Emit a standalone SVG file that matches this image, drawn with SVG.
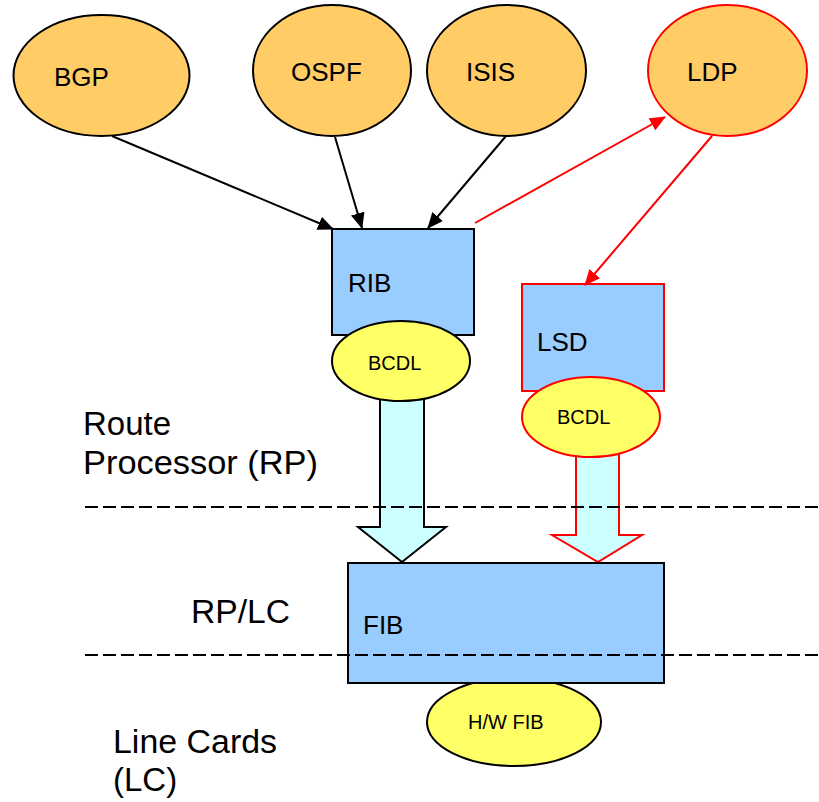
<svg xmlns="http://www.w3.org/2000/svg" width="819" height="802" viewBox="0 0 819 802">
<style>
text{font-family:"Liberation Sans",Arial,sans-serif;fill:#000}
.proto{fill:#FFCC66;stroke:#000;stroke-width:2}
.box{fill:#99CCFF;stroke:#000;stroke-width:2}
.bcdl{fill:#FFFF66;stroke:#000;stroke-width:2}
.red{stroke:#FF0000}
.lbl{font-size:26px}
.small{font-size:20px}
.region{font-size:33px}
.conn{fill:none;stroke-width:2}
.dash{stroke:#000;stroke-width:2;stroke-dasharray:13 5;fill:none}
.blk{fill:#CCFFFF;stroke-width:2}
</style>
<defs>
<marker id="ah" markerUnits="userSpaceOnUse" markerWidth="16" markerHeight="14" refX="15" refY="7" orient="auto"><path d="M0,0 L16,7 L0,14 Z" fill="#000"/></marker>
<marker id="ahr" markerUnits="userSpaceOnUse" markerWidth="16" markerHeight="14" refX="15" refY="7" orient="auto"><path d="M0,0 L16,7 L0,14 Z" fill="#FF0000"/></marker>
</defs>

<g id="block-arrows">
<polygon id="arrow-rib-fib" class="blk" stroke="#000" points="380,395 424,395 424,527 446,527 402,562 358,527 380,527"/>
<polygon id="arrow-lsd-fib" class="blk" stroke="#FF0000" points="576,450 619,450 619,535 642,535 598,562 552,535 576,535"/>
</g>

<g id="hwfib"><ellipse class="bcdl" cx="514" cy="722" rx="87" ry="44"/><text class="small" x="468" y="729" font-size="21">H/W FIB</text></g>

<g id="bgp"><ellipse class="proto" cx="101.5" cy="75.5" rx="88" ry="60.5"/><text class="lbl" x="54" y="86">BGP</text></g>
<g id="ospf"><ellipse class="proto" cx="332" cy="70.5" rx="79" ry="65.5"/><text class="lbl" x="291" y="81">OSPF</text></g>
<g id="isis"><ellipse class="proto" cx="506.5" cy="70.5" rx="79.5" ry="65.5"/><text class="lbl" x="466" y="81">ISIS</text></g>
<g id="ldp"><ellipse class="proto red" cx="727.5" cy="70.5" rx="79.5" ry="65.5"/><text class="lbl" x="687" y="81">LDP</text></g>

<g id="rib"><rect class="box" x="332" y="229" width="142" height="106"/><text class="lbl" x="348" y="292">RIB</text></g>
<g id="bcdl1"><ellipse class="bcdl" cx="401" cy="361" rx="69" ry="40"/><text class="small" x="368" y="370">BCDL</text></g>

<g id="lsd"><rect class="box red" x="522" y="284" width="142" height="107"/><text class="lbl" x="537" y="351">LSD</text></g>
<g id="bcdl2"><ellipse class="bcdl red" cx="591" cy="417" rx="69" ry="40"/><text class="small" x="557" y="424">BCDL</text></g>

<g id="fib"><rect class="box" x="348" y="563" width="316" height="120"/><text class="lbl" x="363" y="634">FIB</text></g>

<g id="connectors">
<line class="conn" stroke="#000" x1="112" y1="136" x2="333" y2="229" marker-end="url(#ah)"/>
<line class="conn" stroke="#000" x1="335" y1="137" x2="362" y2="228" marker-end="url(#ah)"/>
<line class="conn" stroke="#000" x1="506" y1="136" x2="428" y2="228" marker-end="url(#ah)"/>
<line class="conn" stroke="#FF0000" x1="475" y1="223" x2="665" y2="117" marker-end="url(#ahr)"/>
<line class="conn" stroke="#FF0000" x1="712" y1="136" x2="585" y2="285" marker-end="url(#ahr)"/>
</g>

<g id="boundaries">
<line class="dash" x1="85" y1="507" x2="819" y2="507"/>
<line class="dash" x1="85" y1="655" x2="819" y2="655"/>
</g>

<g id="region-labels">
<text class="region" x="83" y="435">Route</text>
<text class="region" x="83" y="474" textLength="235" lengthAdjust="spacingAndGlyphs">Processor (RP)</text>
<text class="region" x="191" y="623" textLength="99" lengthAdjust="spacingAndGlyphs">RP/LC</text>
<text class="region" x="113" y="753" textLength="164" lengthAdjust="spacingAndGlyphs">Line Cards</text>
<text class="region" x="113" y="791">(LC)</text>
</g>
</svg>
